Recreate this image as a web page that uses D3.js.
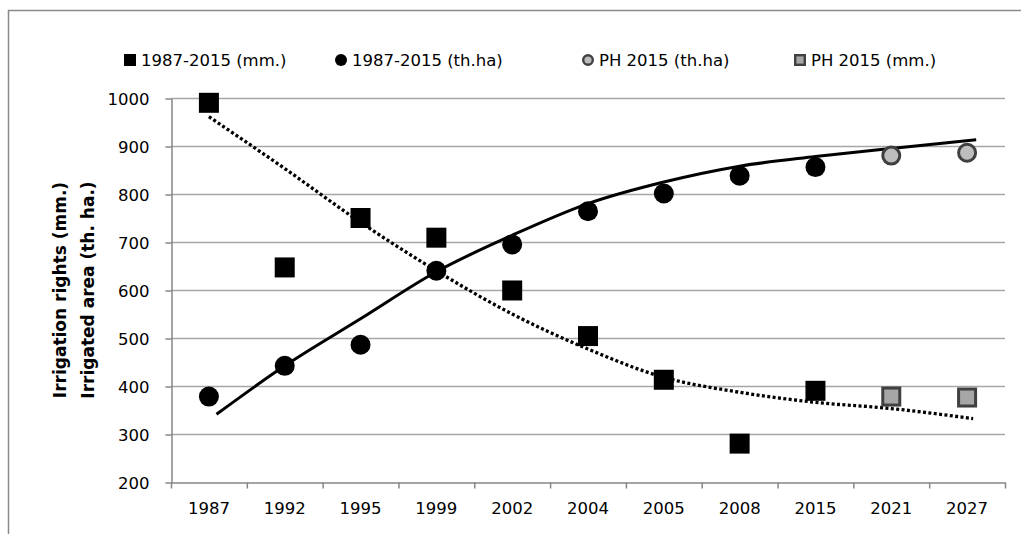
<!DOCTYPE html>
<head>
  <meta charset="utf-8">
  <script src="https://d3js.org/d3.v7.min.js"></script>
  <style>
    body { margin: 0; background: #fff; }
    text { font-family: "DejaVu Sans", sans-serif; fill: #000; }
  </style>
</head>
<body>

<div id="my_dataviz"></div>

<script>

  // categories on the x axis
  var years = ["1987", "1992", "1995", "1999", "2002", "2004", "2005", "2008", "2015", "2021", "2027"];

  // observed values (null = no point)
  var rightsMm = [990, 647, 750, 709, 599, 504, 413, 280, 390, null, null];
  var areaTha  = [378, 442, 486, 640, 695, 764, 801, 838, 856, null, null];
  var phAreaTha = [null, null, null, null, null, null, null, null, null, 880, 886];
  var phRightsMm = [null, null, null, null, null, null, null, null, null, 378, 376];

  // trend lines: category position (1 = first year) and value
  var trendMmPos = [1, 2, 3, 4, 5, 6, 7, 8, 9, 10, 11.08];
  var trendMmVal = [961, 853, 741, 640, 550, 477, 418, 387, 366, 353, 332];
  var trendHaPos = [1.1, 2, 3, 4, 5, 6, 7, 8, 9, 10, 11.12];
  var trendHaVal = [341, 442, 540, 638, 714, 780, 825, 858, 878, 895, 913];

  var yTicks = [200, 300, 400, 500, 600, 700, 800, 900, 1000];

  var legendLabels = ["1987-2015 (mm.)", "1987-2015 (th.ha)", "PH 2015 (th.ha)", "PH 2015 (mm.)"];

  var W = 1021, H = 534;
  var pLeft = 171, pRight = 1005, pTop = 98, pBottom = 482;

  var svg = d3.select("#my_dataviz")
    .append("svg")
      .attr("width", W)
      .attr("height", H);

  // outer frame (top and left edges visible)
  svg.append("path")
    .attr("d", "M8.5," + H + "V10.5H" + W)
    .attr("fill", "none")
    .attr("stroke", "#8a8a8a")
    .attr("stroke-width", 1.5);

  var x = d3.scaleBand().domain(years).range([pLeft, pRight]).padding(0);
  var xi = d3.scaleLinear().domain([0.5, years.length + 0.5]).range([pLeft, pRight]);
  var y = d3.scaleLinear().domain([200, 1000]).range([pBottom, pTop]);

  function cx(i) { return x(years[i]) + x.bandwidth() / 2; }

  // gridlines
  svg.append("g")
    .selectAll("line")
    .data(yTicks.slice(1))
    .enter().append("line")
      .attr("x1", pLeft).attr("x2", pRight)
      .attr("y1", function(d) { return Math.round(y(d)) + 0.5; })
      .attr("y2", function(d) { return Math.round(y(d)) + 0.5; })
      .attr("stroke", "#a6a6a6")
      .attr("stroke-width", 1.3);

  // y axis
  var gy = svg.append("g")
    .attr("transform", "translate(" + (pLeft + 0.5) + ",0.5)")
    .call(d3.axisLeft(y).tickValues(yTicks).tickSize(6).tickSizeOuter(0).tickPadding(16).tickFormat(d3.format("d")));
  gy.selectAll("path, line").attr("stroke", "#868686").attr("stroke-width", 1.5);
  gy.selectAll("text").style("font-size", "16.5px").attr("dy", "0.36em");

  // x axis: boundary ticks
  var gx = svg.append("g")
    .attr("transform", "translate(0," + (pBottom + 0.5) + ")")
    .call(d3.axisBottom(xi).tickValues(d3.range(0.5, years.length + 1, 1)).tickSize(6).tickSizeOuter(0).tickFormat(""));
  gx.selectAll("path, line").attr("stroke", "#868686").attr("stroke-width", 1.5);

  // x axis: labels at band centres
  var gxl = svg.append("g")
    .attr("transform", "translate(0," + pBottom + ")")
    .call(d3.axisBottom(x).tickSize(0).tickPadding(20));
  gxl.select(".domain").remove();
  gxl.selectAll("text").style("font-size", "16.5px");

  // y title
  var title = svg.append("text")
    .attr("transform", "translate(66," + ((pTop + pBottom) / 2) + ") rotate(-90)")
    .attr("text-anchor", "middle")
    .style("font-size", "17px")
    .style("font-weight", "bold");
  title.append("tspan").attr("x", 0).attr("y", 0).text("Irrigation rights (mm.)");
  title.append("tspan").attr("x", 0).attr("y", 28).text("Irrigated area (th. ha.)");

  // trend lines
  var trendLine = d3.line()
    .x(function(d) { return xi(d[0]); })
    .y(function(d) { return y(d[1]); })
    .curve(d3.curveMonotoneX);

  svg.append("path")
    .datum(d3.zip(trendHaPos, trendHaVal))
    .attr("d", trendLine)
    .attr("fill", "none")
    .attr("stroke", "#000")
    .attr("stroke-width", 3);

  svg.append("path")
    .datum(d3.zip(trendMmPos, trendMmVal))
    .attr("d", trendLine)
    .attr("fill", "none")
    .attr("stroke", "#000")
    .attr("stroke-width", 3.3)
    .attr("stroke-dasharray", "3,2.4");

  // markers
  function pts(arr) {
    return arr.map(function(v, i) { return {i: i, v: v}; }).filter(function(d) { return d.v != null; });
  }

  var sq = 20;

  svg.append("g").selectAll("rect")
    .data(pts(rightsMm))
    .enter().append("rect")
      .attr("x", function(d) { return cx(d.i) - sq / 2; })
      .attr("y", function(d) { return y(d.v) - sq / 2; })
      .attr("width", sq).attr("height", sq)
      .attr("fill", "#000");

  svg.append("g").selectAll("circle")
    .data(pts(areaTha))
    .enter().append("circle")
      .attr("cx", function(d) { return cx(d.i); })
      .attr("cy", function(d) { return y(d.v); })
      .attr("r", 10)
      .attr("fill", "#000");

  svg.append("g").selectAll("circle")
    .data(pts(phAreaTha))
    .enter().append("circle")
      .attr("cx", function(d) { return cx(d.i); })
      .attr("cy", function(d) { return y(d.v); })
      .attr("r", 8.5)
      .attr("fill", "#bdbdbd")
      .attr("stroke", "#404040")
      .attr("stroke-width", 3);

  svg.append("g").selectAll("rect")
    .data(pts(phRightsMm))
    .enter().append("rect")
      .attr("x", function(d) { return cx(d.i) - 8.5; })
      .attr("y", function(d) { return y(d.v) - 8.5; })
      .attr("width", 17).attr("height", 17)
      .attr("fill", "#a6a6a6")
      .attr("stroke", "#404040")
      .attr("stroke-width", 3);

  // legend
  var legX = [130, 341, 588, 800];
  var legY = 60;
  var leg = svg.append("g");
  legendLabels.forEach(function(lab, k) {
    var g = leg.append("g").attr("transform", "translate(" + legX[k] + "," + legY + ")");
    if (k === 0) {
      g.append("rect").attr("x", -6).attr("y", -6).attr("width", 12).attr("height", 12).attr("fill", "#000");
    } else if (k === 1) {
      g.append("circle").attr("r", 6).attr("fill", "#000");
    } else if (k === 2) {
      g.append("circle").attr("r", 4.8).attr("fill", "#bdbdbd").attr("stroke", "#404040").attr("stroke-width", 2.4);
    } else {
      g.append("rect").attr("x", -4.8).attr("y", -4.8).attr("width", 9.6).attr("height", 9.6)
        .attr("fill", "#a6a6a6").attr("stroke", "#404040").attr("stroke-width", 2.4);
    }
    g.append("text")
      .attr("x", 11)
      .attr("dy", "0.36em")
      .style("font-size", "16.5px")
      .text(lab);
  });

</script>

</body>
